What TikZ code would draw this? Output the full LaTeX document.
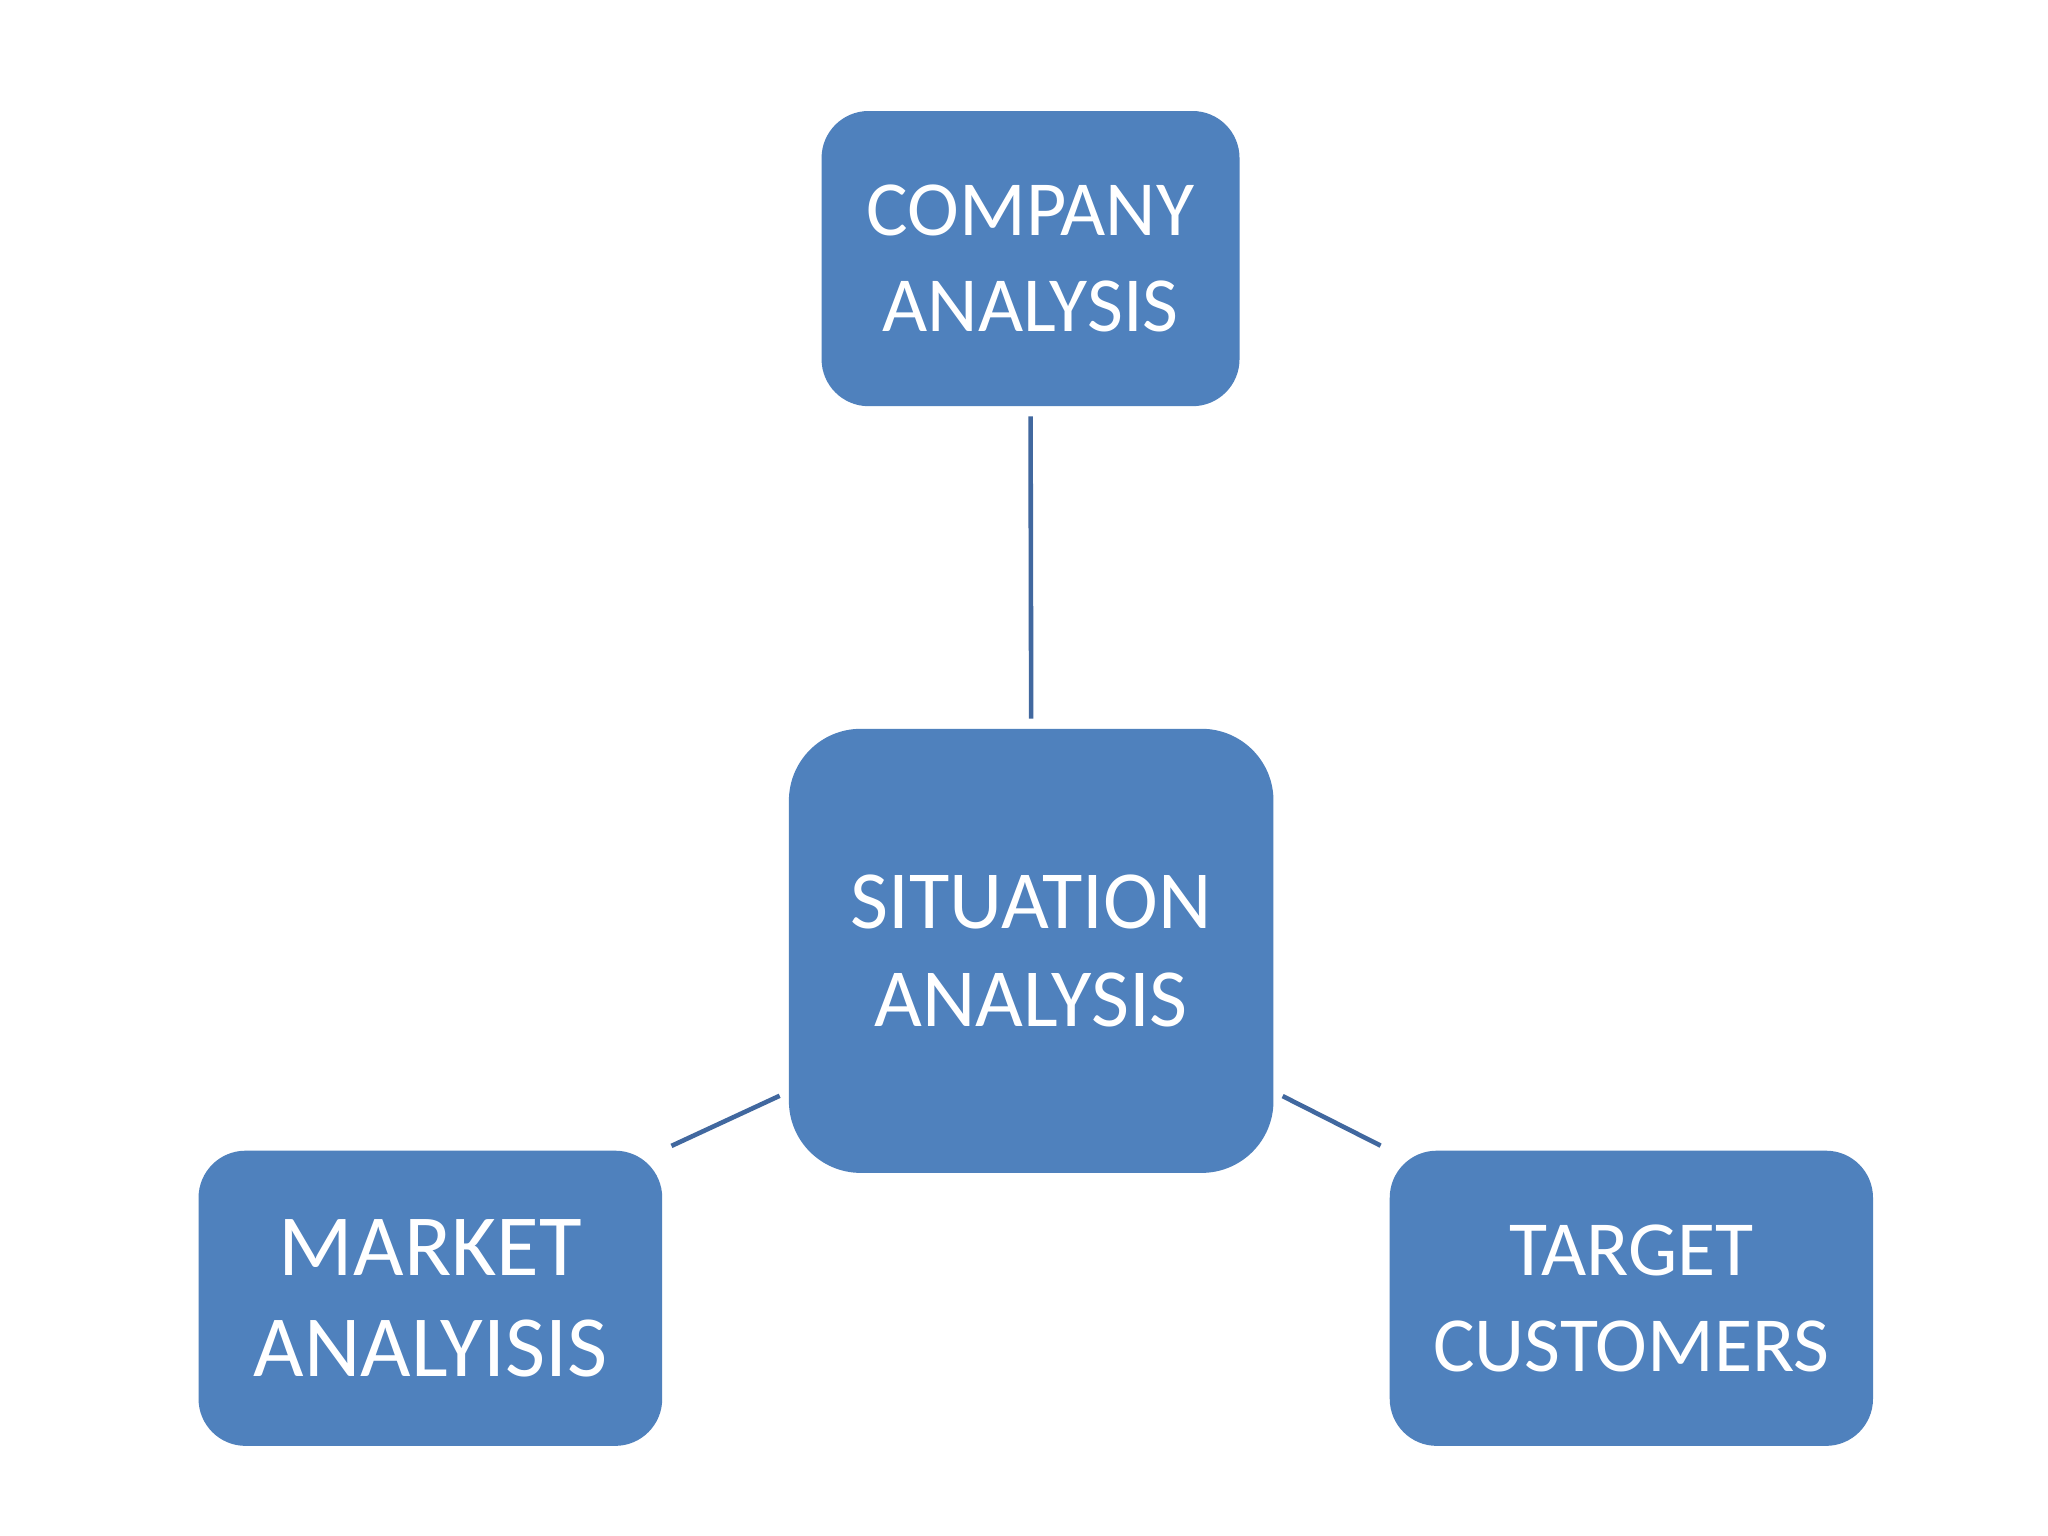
\documentclass[tikz,border=0pt]{standalone}
\usepackage{fontspec}
\setmainfont{Carlito}
\usetikzlibrary{positioning}
\definecolor{boxblue}{HTML}{4F81BD}
\definecolor{linkblue}{HTML}{41689F}
\tikzset{box/.style = {fill=boxblue, rounded corners=0.36cm, text=white, align=center,
                       font=\fontsize{17}{21}\selectfont, inner sep=0pt},
         link/.style = {draw=linkblue, line width=1pt, shorten <=2pt, shorten >=2pt}}
\begin{document}
\begin{tikzpicture}
                        \useasboundingbox[fill=white] (0,0) rectangle (15.68,-11.76);
                        %\draw[help lines] (0,-12) grid (16,0);
                        \node[box, minimum width=3.2cm, minimum height=2.26cm] (company) at (7.89,-1.98) {COMPANY\\ANALYSIS};
                        \node[box, minimum width=3.71cm, minimum height=3.4cm, rounded corners=0.55cm,
                              font=\fontsize{18}{21.5}\selectfont] (situation) at (7.895,-7.28) {SITUATION\\ANALYSIS};
                        \node[box, minimum width=3.55cm, minimum height=2.26cm,
                              font=\fontsize{19}{22}\selectfont] (market) at (3.295,-9.94) {MARKET\\ANALYISIS};
                        \node[box, minimum width=3.7cm, minimum height=2.26cm] (target) at (12.49,-9.94) {TARGET\\CUSTOMERS};
                        \draw[link] (company.south) -- (situation.north);
                        \draw[link] (market.north east) -- ([yshift=-1.08cm]situation.west);
                        \draw[link] ([yshift=-1.08cm]situation.east) -- (target.north west);
\end{tikzpicture}
\end{document}
